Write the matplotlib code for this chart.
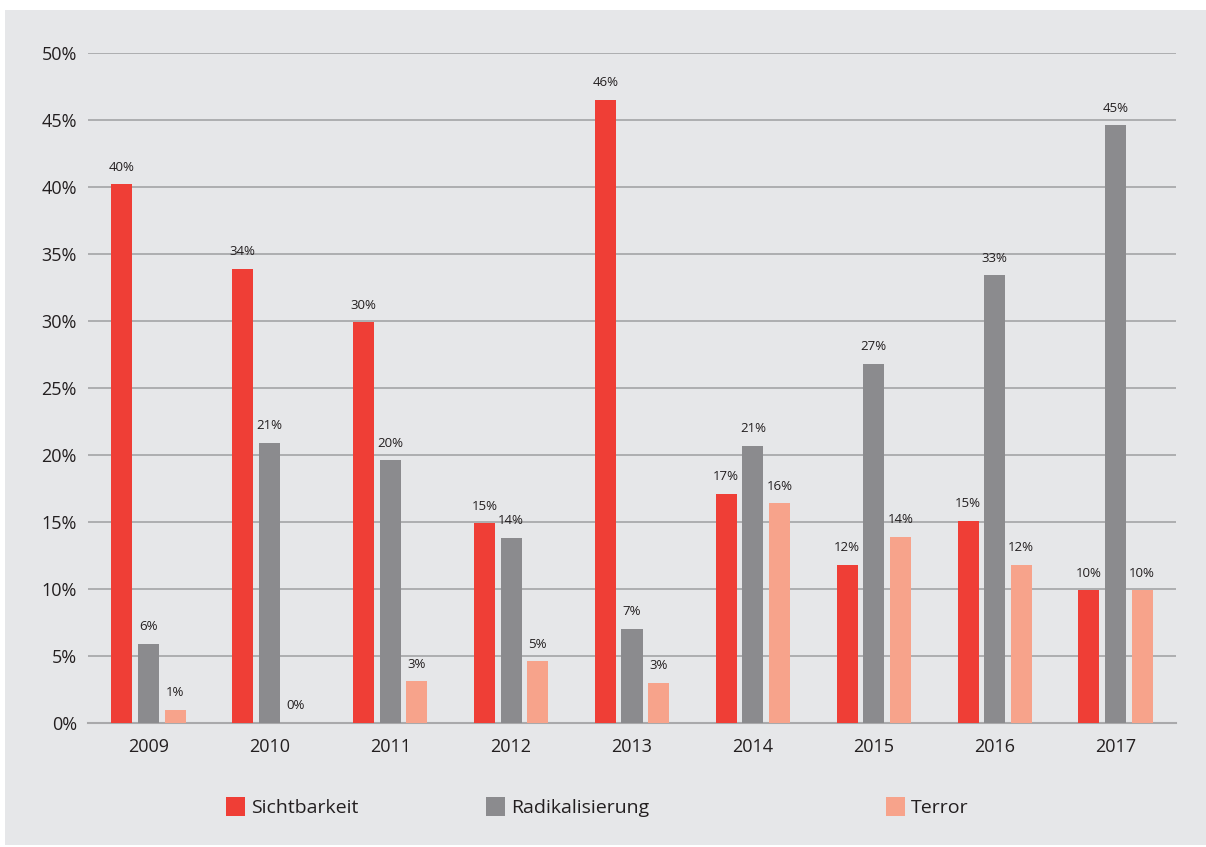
import matplotlib
matplotlib.use("Agg")
import matplotlib.pyplot as plt
import numpy as np
from matplotlib.patches import Rectangle

plt.rcParams['font.family'] = ['Open Sans', 'DejaVu Sans']

years = ['2009', '2010', '2011', '2012', '2013', '2014', '2015', '2016', '2017']
sichtbarkeit = [40.2, 33.9, 29.9, 14.9, 46.5, 17.1, 11.8, 15.1, 9.9]
radikalisierung = [5.9, 20.9, 19.6, 13.8, 7.0, 20.7, 26.8, 33.4, 44.6]
terror = [1.0, 0.0, 3.1, 4.6, 3.0, 16.4, 13.9, 11.8, 9.9]
series_names = ['Sichtbarkeit', 'Radikalisierung', 'Terror']
y_ticks = [0, 5, 10, 15, 20, 25, 30, 35, 40, 45, 50]

colors = ['#ef3e36', '#8b8b8e', '#f7a38b']
bg = '#e6e7e9'
grid_c = '#a9a9ab'
text_c = '#231f20'

W, H = 1206, 847
fig = plt.figure(figsize=(W / 100, H / 100), dpi=100, facecolor='white')
fig.patches.append(Rectangle((5 / W, 2 / H), (W - 5) / W, (H - 12) / H,
                             transform=fig.transFigure, facecolor=bg,
                             edgecolor='none', zorder=-10))

ax = fig.add_axes([88 / W, 1 - 723 / H, (1176 - 88) / W, (723 - 53) / H])
ax.set_facecolor('none')

x = np.arange(len(years))
bw = 0.174
off = 0.22
data = [sichtbarkeit, radikalisierung, terror]
handles = []
for i, (vals, c) in enumerate(zip(data, colors)):
    xs = x + (i - 1) * off
    b = ax.bar(xs, vals, width=bw, color=c, zorder=3)
    handles.append(b)
    for xi, v in zip(xs, vals):
        ax.text(xi, v + 0.8, f"{round(v):.0f}%", ha='center', va='bottom',
                fontsize=9.5, color=text_c, zorder=4)

ax.set_xlim(-0.5, len(years) - 0.5)
ax.set_ylim(0, 50)
ax.set_yticks(y_ticks)
ax.set_yticklabels([f"{t}%" for t in y_ticks])
ax.set_xticks(x)
ax.set_xticklabels(years)
ax.tick_params(axis='both', length=0, labelsize=13, colors=text_c)
ax.tick_params(axis='y', pad=8)
ax.tick_params(axis='x', pad=11)
for s in ['top', 'right', 'left']:
    ax.spines[s].set_visible(False)
ax.spines['bottom'].set_color(grid_c)
ax.spines['bottom'].set_linewidth(1.5)
ax.yaxis.grid(True, color=grid_c, linewidth=1.3, zorder=0)
ax.set_axisbelow(True)

# Legend: three separate entries at reference positions
leg_x = [228, 488, 888]
for h, name, lx in zip(handles, series_names, leg_x):
    lg = fig.legend([h], [name], loc='center left',
                    bbox_to_anchor=(lx / W - 0.0165, 1 - 807 / H),
                    frameon=False, fontsize=14, handlelength=1.0,
                    handleheight=1.15, handletextpad=0.3, labelcolor=text_c)

fig.savefig('out.png', dpi=100, facecolor='white')
